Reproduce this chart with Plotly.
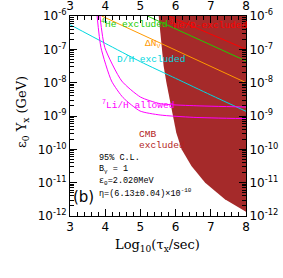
import plotly.graph_objects as go

# ---------------- data (log10 tau [sec], log10 eps0*Y [GeV]) ----------------
tau_he3 = [5.8, 8.0]
logy_he3 = [-6.0, -7.0]

tau_he4 = [5.2, 8.0]
logy_he4 = [-6.0, -7.35]

tau_dn = [3.9, 8.0]
logy_dn = [-6.0, -8.0]

tau_dh = [3.0, 4.0, 5.0, 6.0, 7.0, 8.0]
logy_dh = [-6.26, -6.82, -7.37, -7.87, -8.37, -8.86]

tau_li_outer = [3.77, 3.88, 4.18, 4.51, 4.99, 5.56, 6.5, 8.0]
logy_li_outer = [-6.0, -6.95, -7.95, -8.45, -8.85, -8.97, -9.04, -9.08]

tau_li_inner = [3.85, 3.99, 4.47, 5.0, 5.56, 6.5, 8.0]
logy_li_inner = [-6.0, -6.95, -7.95, -8.43, -8.63, -8.69, -8.73]

tau_cmb = [5.52, 5.56, 5.61, 5.66, 5.74, 5.84, 5.93, 6.02, 6.17, 6.45, 6.84, 7.40, 8.0]
logy_cmb = [-6.0, -6.5, -7.0, -7.5, -8.0, -8.5, -9.0, -9.5, -10.0, -10.5, -11.0, -11.5, -11.87]

x_ticks = [3, 4, 5, 6, 7, 8]
y_tick_exp = [-12, -11, -10, -9, -8, -7, -6]
x_range = [3, 8]
y_range = [-12, -6]

# ---------------------------------------------------------------------------
def yv(lst):
    return [10 ** v for v in lst]

SERIF = "DejaVu Serif"
MONO = "Liberation Mono"
SANS = "DejaVu Sans"
W, H = 283, 278
ML, MR, MT, MB = 70, 37, 16, 62

fig = go.Figure()

# CMB excluded region (closed toward the upper-right corner of the frame)
cmb_x = tau_cmb + [x_range[1]]
cmb_y = logy_cmb + [y_range[1]]
fig.add_trace(go.Scatter(x=cmb_x, y=yv(cmb_y), fill="toself", mode="lines",
                         line=dict(color="#a52a2a", width=0), fillcolor="#a52a2a",
                         hoverinfo="skip", showlegend=False))

lines = [
    (tau_he3, logy_he3, "#ff0000"),
    (tau_he4, logy_he4, "#22cc00"),
    (tau_dn, logy_dn, "#ff9900"),
    (tau_dh, logy_dh, "#00d8e0"),
    (tau_li_outer, logy_li_outer, "#ff00ff"),
    (tau_li_inner, logy_li_inner, "#ff00ff"),
]
for tx, ly, col in lines:
    fig.add_trace(go.Scatter(x=tx, y=yv(ly), mode="lines", xaxis="x2", yaxis="y2",
                             line=dict(color=col, width=1, shape="spline", smoothing=0.6),
                             hoverinfo="skip", showlegend=False, cliponaxis=True))

tickfont = dict(family=SANS, size=12, color="black")
y_vals = [10 ** e for e in y_tick_exp]
y_text = ["10<sup>%d</sup>" % e for e in y_tick_exp]

xcommon = dict(range=x_range, showline=True, linecolor="black", linewidth=1,
               ticks="inside", ticklen=7, tickcolor="black", tickwidth=1,
               tickvals=x_ticks, ticktext=[str(t) for t in x_ticks],
               minor=dict(ticks="inside", ticklen=4, dtick=0.2, tickcolor="black", showgrid=False),
               showgrid=False, zeroline=False, tickfont=tickfont, automargin=False)
ycommon = dict(type="log", range=y_range, showline=True, linecolor="black", linewidth=1,
               ticks="inside", ticklen=7, tickcolor="black", tickwidth=1,
               tickvals=y_vals, ticktext=y_text,
               minor=dict(ticks="inside", ticklen=4, dtick="D1", tickcolor="black", showgrid=False),
               showgrid=False, zeroline=False, tickfont=tickfont, automargin=False)

fig.update_layout(
    width=W, height=H,
    margin=dict(l=ML, r=MR, t=MT, b=MB, autoexpand=False),
    paper_bgcolor="white", plot_bgcolor="white",
    xaxis=dict(side="bottom", anchor="y", **xcommon),
    yaxis=dict(side="left", anchor="x", **ycommon),
    xaxis2=dict(side="top", overlaying="x", anchor="y2", ticklabelstandoff=0, **xcommon),
    yaxis2=dict(side="right", overlaying="y", anchor="x2", **ycommon),
    showlegend=False,
)

lab = 9.5
annots = [
    ("<sup>4</sup>He excluded", 3.82, -6.21, "#22cc00", lab),
    ("<sup>3</sup>He/D-excluded", 5.76, -6.25, "#ff0000", lab),
    ("ΔN<sub>ν</sub>", 5.07, -6.85, "#ff9900", lab),
    ("D/H excluded", 4.28, -7.30, "#00d8e0", lab),
    ("<sup>7</sup>Li/H allowed", 3.85, -8.66, "#ff00ff", lab),
    ("CMB", 4.89, -9.56, "#b22222", lab),
    ("excluded", 4.89, -9.87, "#b22222", lab),
    ("95% C.L.", 3.76, -10.25, "black", 8.5),
    ("B<sub>γ</sub> = 1", 3.76, -10.60, "black", 8.5),
    ("ε<sub>0</sub>=2.020MeV", 3.76, -10.96, "black", 8.5),
    ("η=(6.13±0.04)×10<sup>-10</sup>", 3.76, -11.31, "black", 8.5),
]
for txt, ax_, ay_, col, fs in annots:
    fig.add_annotation(text=txt, x=ax_, y=ay_, xref="x", yref="y", showarrow=False,
                       xanchor="left", yanchor="middle", font=dict(family=MONO, size=fs, color=col))

fig.add_annotation(text="(b)", x=3.37, y=-11.43, xref="x", yref="y", showarrow=False,
                   xanchor="center", yanchor="middle", font=dict(family=SANS, size=15, color="black"))

# axis titles (pixel position converted to paper coordinates)
pw, ph = W - ML - MR, H - MT - MB
def px2paper(px, py):
    return (px - ML) / pw, (H - py - MB) / ph

tx_, ty_ = px2paper(157, 245)
fig.add_annotation(text="Log<sub>10</sub>(τ<sub>x</sub>/sec)", x=tx_, y=ty_,
                   xref="paper", yref="paper", showarrow=False, xanchor="center", yanchor="middle",
                   font=dict(family=SERIF, size=13, color="black"))
tx_, ty_ = px2paper(22, 112)
fig.add_annotation(text="ε<sub>0</sub> Y<sub>x</sub> (GeV)", x=tx_, y=ty_,
                   xref="paper", yref="paper", showarrow=False, xanchor="center", yanchor="middle",
                   textangle=-90, font=dict(family=SERIF, size=13, color="black"))

fig.write_html("out.html", config={"displayModeBar": False},
               post_script="document.body.style.margin='0';")
